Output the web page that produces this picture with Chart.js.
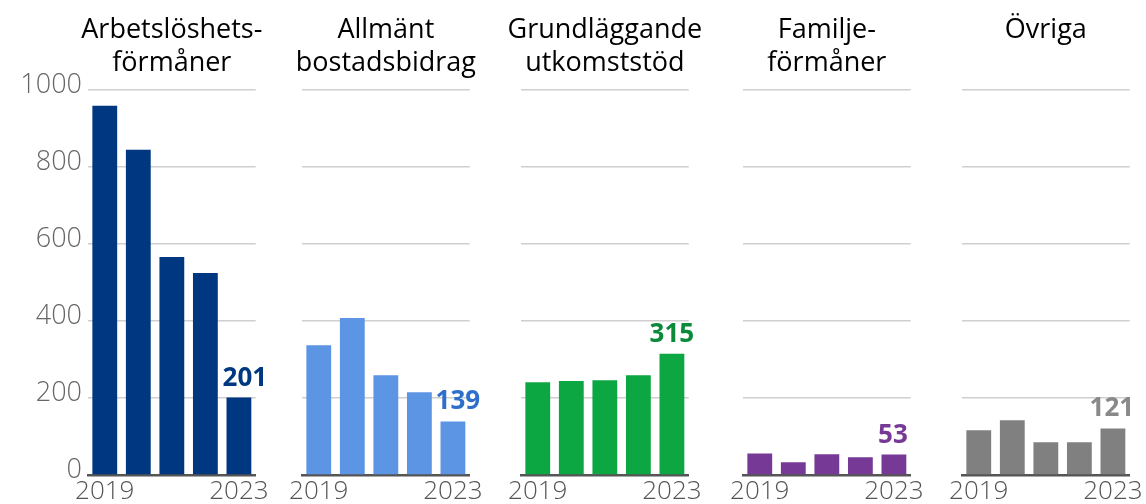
<!DOCTYPE html>
<html>
<head>
<meta charset="utf-8">
<script src="https://cdn.jsdelivr.net/npm/chart.js@4/dist/chart.umd.min.js"></script>
<style>
  html, body { margin: 0; padding: 0; background: #fff; overflow: hidden; }
  #wrap { position: relative; width: 1146px; height: 504px; }
  canvas { position: absolute; top: 0; }
</style>
</head>
<body>
<div id="wrap"></div>
<script>
// data
const years = ['2019', '2020', '2021', '2022', '2023'];
const arbetsloshet = [959, 845, 566, 525, 201];
const bostadsbidrag = [337, 408, 259, 215, 139];
const utkomststod = [241, 244, 246, 259, 315];
const familj = [56, 33, 54, 46, 53];
const ovriga = [116, 142, 85, 85, 121];
const yTickValues = [0, 200, 400, 600, 800, 1000];

const FONT = "'Open Sans', 'Noto Sans', sans-serif";
const PLOT_W = 169;

const panels = [
  { title: ['Arbetslöshets-', 'förmåner'], data: arbetsloshet, color: '#003781', labelColor: '#003781', left: 88, dx: 6 },
  { title: ['Allmänt', 'bostadsbidrag'], data: bostadsbidrag, color: '#5b95e3', labelColor: '#2f6fcc', left: 302, dx: 5 },
  { title: ['Grundläggande', 'utkomststöd'], data: utkomststod, color: '#0ca643', labelColor: '#0b8a3b', left: 521, dx: 0 },
  { title: ['Familje-', 'förmåner'], data: familj, color: '#773996', labelColor: '#773996', left: 743, dx: -1 },
  { title: ['Övriga'], data: ovriga, color: '#808080', labelColor: '#898989', left: 962, dx: -1 }
];

// panel title, centred over the plot area (the built-in title squeezes long words)
const panelTitle = {
  id: 'panelTitle',
  afterDraw(chart, args, opts) {
    const { ctx, chartArea } = chart;
    const cx = (chartArea.left + chartArea.right) / 2;
    ctx.save();
    ctx.font = `27px ${FONT}`;
    ctx.fillStyle = '#000';
    ctx.textAlign = 'center';
    ctx.textBaseline = 'alphabetic';
    opts.lines.forEach((line, i) => ctx.fillText(line, cx, 38 + i * 33));
    ctx.restore();
  }
};

// value label above the last bar
const lastValueLabel = {
  id: 'lastValueLabel',
  afterDatasetsDraw(chart, args, opts) {
    const meta = chart.getDatasetMeta(0);
    const i = meta.data.length - 1;
    const bar = meta.data[i];
    const ctx = chart.ctx;
    ctx.save();
    ctx.font = `bold 26px ${FONT}`;
    ctx.fillStyle = opts.color;
    ctx.textAlign = 'center';
    ctx.textBaseline = 'alphabetic';
    ctx.fillText(String(chart.data.datasets[0].data[i]), bar.x + opts.dx, bar.y - 12);
    ctx.restore();
  }
};

const wrap = document.getElementById('wrap');

panels.forEach((p, idx) => {
  const first = idx === 0;
  const padL = first ? 0 : 20;
  const yW = first ? 88 : 0;
  const padR = 14;
  const canvas = document.createElement('canvas');
  const w = (first ? yW : padL) + PLOT_W + padR;
  canvas.width = w;
  canvas.height = 504;
  canvas.style.left = (p.left - (first ? yW : padL)) + 'px';
  canvas.style.width = w + 'px';
  canvas.style.height = '504px';
  wrap.appendChild(canvas);

  new Chart(canvas, {
    type: 'bar',
    data: {
      labels: years,
      datasets: [{
        data: p.data,
        backgroundColor: p.color,
        barPercentage: 0.74,
        categoryPercentage: 1.0
      }]
    },
    options: {
      responsive: false,
      animation: false,
      devicePixelRatio: 1,
      layout: { padding: { left: padL, right: padR, top: 90, bottom: 0 } },
      plugins: {
        legend: { display: false },
        tooltip: { enabled: false },
        title: { display: false },
        panelTitle: { lines: p.title },
        lastValueLabel: { color: p.labelColor, dx: p.dx }
      },
      scales: {
        x: {
          grid: { display: false, drawTicks: false },
          border: { color: '#555', width: 2.5 },
          ticks: {
            autoSkip: false,
            maxRotation: 0,
            color: '#555',
            padding: 1,
            font: { family: FONT, size: 26, weight: 300 },
            callback: (v, i) => (i === 0 || i === years.length - 1) ? years[i] : ''
          },
          afterFit: s => { s.height = 29; }
        },
        y: {
          min: 0,
          max: 1000,
          afterBuildTicks: s => { s.ticks = yTickValues.map(v => ({ value: v })); },
          grid: { color: '#cfcfcf', lineWidth: 1.5, drawTicks: false },
          border: { display: false },
          ticks: {
            display: first,
            color: '#666',
            padding: 6,
            labelOffset: -5,
            font: { family: FONT, size: 27, weight: 300 },
            callback: v => String(v)
          },
          afterFit: s => { s.width = yW; }
        }
      }
    },
    plugins: [panelTitle, lastValueLabel]
  });
});
</script>
</body>
</html>
